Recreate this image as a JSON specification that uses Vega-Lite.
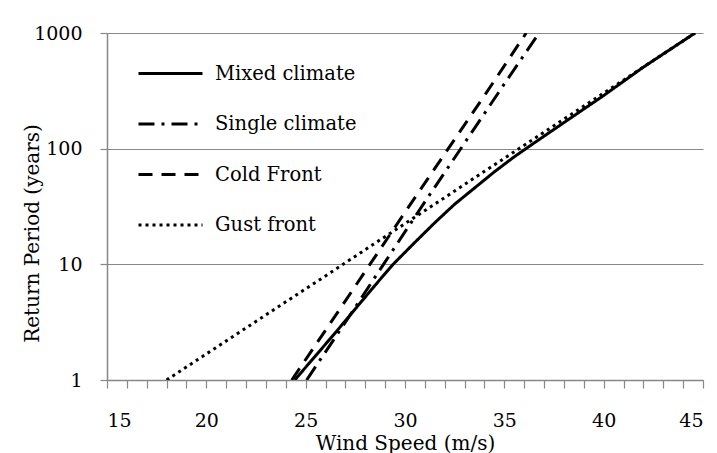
{
  "$schema": "https://vega.github.io/schema/vega-lite/v6.json",
  "width": 596,
  "height": 347,
  "autosize": {"type": "none"},
  "padding": {"left": 107, "top": 33, "right": 14, "bottom": 73},
  "background": "white",
  "data": {
    "values": [
      {"series": "Mixed climate", "speed": 24.45, "period": 1.0},
      {"series": "Mixed climate", "speed": 25.5, "period": 1.62},
      {"series": "Mixed climate", "speed": 26.5, "period": 2.57},
      {"series": "Mixed climate", "speed": 27.5, "period": 4.12},
      {"series": "Mixed climate", "speed": 28.5, "period": 6.61},
      {"series": "Mixed climate", "speed": 29.4, "period": 10.0},
      {"series": "Mixed climate", "speed": 30.5, "period": 15.5},
      {"series": "Mixed climate", "speed": 31.5, "period": 22.9},
      {"series": "Mixed climate", "speed": 32.5, "period": 33.1},
      {"series": "Mixed climate", "speed": 33.5, "period": 45.7},
      {"series": "Mixed climate", "speed": 34.5, "period": 63.1},
      {"series": "Mixed climate", "speed": 35.5, "period": 85.1},
      {"series": "Mixed climate", "speed": 36.5, "period": 112},
      {"series": "Mixed climate", "speed": 38.0, "period": 168},
      {"series": "Mixed climate", "speed": 40.0, "period": 288},
      {"series": "Mixed climate", "speed": 42.0, "period": 507},
      {"series": "Mixed climate", "speed": 44.6, "period": 1000},
      {"series": "Single climate", "speed": 25.05, "period": 1.0},
      {"series": "Single climate", "speed": 27.0, "period": 3.16},
      {"series": "Single climate", "speed": 29.0, "period": 10.5},
      {"series": "Single climate", "speed": 31.0, "period": 34.7},
      {"series": "Single climate", "speed": 33.0, "period": 112},
      {"series": "Single climate", "speed": 35.0, "period": 363},
      {"series": "Single climate", "speed": 36.75, "period": 1000},
      {"series": "Cold Front", "speed": 24.3, "period": 1.0},
      {"series": "Cold Front", "speed": 26.0, "period": 2.69},
      {"series": "Cold Front", "speed": 28.0, "period": 8.71},
      {"series": "Cold Front", "speed": 30.0, "period": 28.2},
      {"series": "Cold Front", "speed": 32.0, "period": 90.2},
      {"series": "Cold Front", "speed": 34.0, "period": 288},
      {"series": "Cold Front", "speed": 36.1, "period": 1000},
      {"series": "Gust front", "speed": 18.0, "period": 1.0},
      {"series": "Gust front", "speed": 20.0, "period": 1.68},
      {"series": "Gust front", "speed": 22.0, "period": 2.82},
      {"series": "Gust front", "speed": 24.0, "period": 4.74},
      {"series": "Gust front", "speed": 26.0, "period": 7.94},
      {"series": "Gust front", "speed": 28.0, "period": 13.4},
      {"series": "Gust front", "speed": 30.0, "period": 22.5},
      {"series": "Gust front", "speed": 32.0, "period": 37.8},
      {"series": "Gust front", "speed": 34.0, "period": 63.7},
      {"series": "Gust front", "speed": 36.0, "period": 107},
      {"series": "Gust front", "speed": 38.0, "period": 180},
      {"series": "Gust front", "speed": 40.0, "period": 302},
      {"series": "Gust front", "speed": 42.0, "period": 508},
      {"series": "Gust front", "speed": 44.6, "period": 1000}
    ]
  },
  "mark": {"type": "line", "color": "black", "strokeWidth": 3, "clip": true},
  "encoding": {
    "x": {
      "field": "speed",
      "type": "quantitative",
      "scale": {"domain": [15, 45], "nice": false, "zero": false},
      "axis": {
        "title": "Wind Speed (m/s)",
        "values": [15,16,17,18,19,20,21,22,23,24,25,26,27,28,29,30,31,32,33,34,35,36,37,38,39,40,41,42,43,44,45],
        "labelExpr": "datum.value % 5 === 0 ? datum.label : ''",
        "grid": false,
        "tickSize": 8,
        "labelPadding": 23,
        "titleY": 53,
        "titleBaseline": "top"
      }
    },
    "y": {
      "field": "period",
      "type": "quantitative",
      "scale": {"type": "log", "domain": [1, 1000], "nice": false},
      "axis": {
        "title": "Return Period (years)",
        "values": [1, 10, 100, 1000],
        "format": "d",
        "grid": true,
        "tickSize": 7,
        "labelPadding": 18,
        "titleX": -69,
        "titleY": 200,
        "titleBaseline": "alphabetic"
      }
    },
    "strokeDash": {
      "field": "series",
      "type": "nominal",
      "scale": {
        "domain": ["Mixed climate", "Single climate", "Cold Front", "Gust front"],
        "range": [[1, 0], [16, 7, 3, 7], [14, 9], [3, 4]]
      },
      "legend": {
        "title": null,
        "orient": "none",
        "legendX": 46,
        "legendY": 23,
        "symbolType": "M-2,0H2",
        "symbolSize": 1024,
        "symbolStrokeWidth": 3,
        "symbolStrokeColor": "black",
        "rowPadding": 23.5,
        "labelOffset": 27,
        "labelFontSize": 19.5,
        "labelLimit": 0,
        "labelColor": "black",
        "padding": 0
      }
    }
  },
  "config": {
    "view": {"stroke": null},
    "font": "DejaVu Serif",
    "legend": {"labelFont": "DejaVu Serif"},
    "axis": {
      "labelFont": "DejaVu Serif",
      "labelFontSize": 19,
      "labelColor": "black",
      "titleFont": "DejaVu Serif",
      "titleFontSize": 20,
      "titleFontWeight": "normal",
      "titleColor": "black",
      "domainColor": "#888888",
      "domainWidth": 1.5,
      "tickColor": "#888888",
      "tickWidth": 1.2,
      "gridColor": "#888888",
      "gridWidth": 1.2,
      "gridOpacity": 1
    }
  }
}
